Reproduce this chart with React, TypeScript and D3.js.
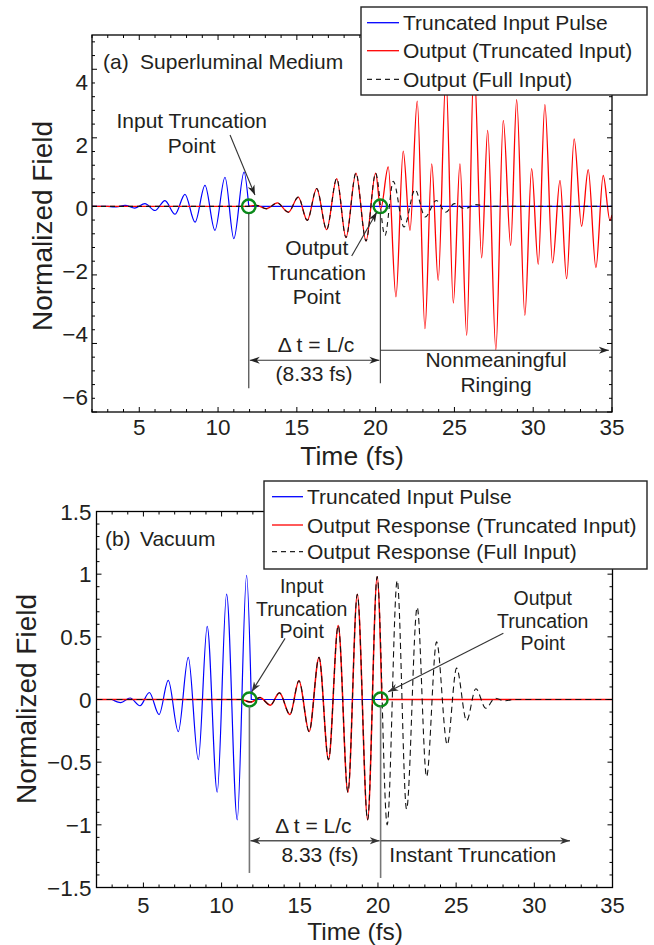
import React from "react";
import * as d3 from "d3";

// ---------------- data ----------------
const xTickValues = [5, 10, 15, 20, 25, 30, 35];
const yTickValuesA = [-6, -4, -2, 0, 2, 4];
const yTickValuesB = [-1.5, -1, -0.5, 0, 0.5, 1, 1.5];

// Panel (a): superluminal medium
const inputA_t = [3.0, 3.55, 4.1, 4.72, 5.36, 6.0, 6.63, 7.27, 7.9, 8.54, 9.17, 9.8, 10.44, 11.0, 11.65, 11.95];
const inputA_v = [0, -0.015, 0.03, -0.05, 0.08, -0.12, 0.17, -0.23, 0.35, -0.46, 0.61, -0.7, 0.85, -0.94, 1.0, 0];

const outTruncA_t = [11.95, 12.45, 13.08, 13.76, 14.46, 15.09, 15.66, 16.26, 16.89, 17.53, 18.12, 18.75, 19.39, 20.0, 20.32, 20.8, 21.29, 21.75, 22.18, 22.64, 23.13, 23.56, 23.97, 24.46, 24.93, 25.35, 25.78, 26.24, 26.73, 27.11, 27.63, 28.1, 28.57, 28.95, 29.47, 29.9, 30.32, 30.74, 31.23, 31.7, 32.12, 32.6, 33.07, 33.49, 33.98, 34.44, 34.87, 35];
const outTruncA_v = [0, 0.03, -0.07, 0.1, -0.17, 0.27, -0.41, 0.52, -0.68, 0.81, -0.91, 0.97, -1.01, 0.97, -0.08, 1.15, -2.64, 1.61, -0.7, 3.07, -3.57, 1.24, -2.16, 3.8, -2.82, 1.24, -3.76, 4.2, -1.5, 2.22, -4.18, 2.51, -1.14, 3.11, -3.18, 1.1, -1.69, 2.97, -1.65, 0.76, -2.11, 1.97, -0.58, 1.07, -1.79, 0.9, -0.41, -0.25];

const outFullA_t = [11.95, 12.45, 13.08, 13.76, 14.46, 15.09, 15.66, 16.26, 16.89, 17.53, 18.12, 18.75, 19.39, 20.0, 20.59, 21.12, 21.8, 22.5, 23.15, 23.85, 24.45, 25.0, 25.65, 26.3, 26.9];
const outFullA_v = [0, 0.03, -0.07, 0.1, -0.17, 0.27, -0.41, 0.52, -0.68, 0.81, -0.91, 0.97, -1.01, 0.97, -0.85, 0.73, -0.6, 0.49, -0.31, 0.17, -0.17, 0.08, -0.07, 0.05, 0];

// Panel (b): vacuum
const inputB_t = [3.0, 3.55, 4.15, 4.78, 5.38, 6.0, 6.59, 7.23, 7.87, 8.51, 9.08, 9.72, 10.32, 11.0, 11.6, 11.9];
const inputB_v = [0, -0.025, 0.012, -0.05, 0.056, -0.12, 0.152, -0.256, 0.336, -0.48, 0.584, -0.74, 0.84, -0.96, 0.99, 0];

const outTruncB_t = [11.3, 11.88, 12.45, 13.12, 13.7, 14.37, 14.95, 15.6, 16.23, 16.84, 17.46, 18.08, 18.68, 19.34, 19.95, 20.25];
const outTruncB_v = [0, -0.02, 0.015, -0.045, 0.053, -0.12, 0.15, -0.256, 0.336, -0.48, 0.59, -0.74, 0.84, -0.96, 0.98, 0];

const outFullB_t = [11.3, 11.88, 12.45, 13.12, 13.7, 14.37, 14.95, 15.6, 16.23, 16.84, 17.46, 18.08, 18.68, 19.34, 19.95, 20.59, 21.23, 21.83, 22.51, 23.11, 23.75, 24.43, 25.03, 25.67, 26.26, 26.9, 27.48, 28.1, 28.6];
const outFullB_v = [0, -0.02, 0.015, -0.045, 0.053, -0.12, 0.15, -0.256, 0.336, -0.48, 0.59, -0.74, 0.84, -0.96, 0.98, -1.0, 0.95, -0.875, 0.736, -0.616, 0.46, -0.36, 0.25, -0.17, 0.086, -0.07, 0.01, -0.01, 0];

const truncA = [11.95, 20.3];
const truncB = [11.78, 20.17];

const legendA = ["Truncated Input Pulse", "Output (Truncated Input)", "Output (Full Input)"];
const legendB = ["Truncated Input Pulse", "Output Response (Truncated Input)", "Output Response (Full Input)"];

// ---------------- helpers ----------------
const FONT = "'Liberation Sans', Arial, Helvetica, sans-serif";
const TXT = "#231f20";
const BLUE = "#0000ff";
const RED = "#ff0000";
const GREEN = "#0a8a1a";

function wavePath(ts: number[], vs: number[], x: any, y: any, lead?: number, tail?: number) {
  const pts: [number, number][] = ts.map((t, i) => [x(t), y(vs[i])]);
  let d = d3.line().curve(d3.curveMonotoneX)(pts) as string;
  if (lead !== undefined) d = `M${x(lead)},${y(0)}L` + d.slice(1);
  if (tail !== undefined) d = d + `L${x(tail)},${y(0)}`;
  return d;
}

function fmt(v: number) {
  const s = d3.format("")(v);
  return s.replace("-", "\u2212");
}

function Axes(props: {
  x: any; y: any; xMinor: number[]; yMinor: number[]; yTicks: number[];
  yLabelPos: (v: number) => number; xLabelY: number; yLabelX: number; xFont: number;
}) {
  const { x, y, xMinor, yMinor, yTicks, yLabelPos, xLabelY, yLabelX, xFont } = props;
  const [x0, x1] = x.range();
  const [y0, y1] = y.range(); // bottom, top
  const maj = 5, mn = 3;
  const els: any[] = [];
  xMinor.forEach((t, i) => {
    const L = xTickValues.includes(t) ? maj : mn;
    els.push(<line key={"xb" + i} x1={x(t)} x2={x(t)} y1={y0} y2={y0 - L} />);
    els.push(<line key={"xt" + i} x1={x(t)} x2={x(t)} y1={y1} y2={y1 + L} />);
  });
  yMinor.forEach((v, i) => {
    const L = yTicks.some((q) => Math.abs(q - v) < 1e-6) ? maj : mn;
    els.push(<line key={"yl" + i} x1={x0} x2={x0 + L} y1={y(v)} y2={y(v)} />);
    els.push(<line key={"yr" + i} x1={x1} x2={x1 - L} y1={y(v)} y2={y(v)} />);
  });
  return (
    <g>
      <g stroke="#000" strokeWidth={1}>{els}</g>
      <rect x={x0} y={y1} width={x1 - x0} height={y0 - y1} fill="none" stroke="#000" strokeWidth={1.3} />
      <g fontFamily={FONT} fill={TXT}>
        {xTickValues.map((t) => (
          <text key={"xl" + t} x={x(t)} y={xLabelY} fontSize={xFont} textAnchor="middle">{t}</text>
        ))}
        {yTicks.map((v) => (
          <text key={"ylb" + v} x={yLabelX} y={yLabelPos(v)} fontSize={22.5} dy="0.36em" textAnchor="end">{fmt(v)}</text>
        ))}
      </g>
    </g>
  );
}

function Legend(props: { x: number; y: number; w: number; h: number; labels: string[]; rowY: number[]; lineX: [number, number]; textX: number; dash: string }) {
  const { x, y, w, h, labels, rowY, lineX, textX, dash } = props;
  const colors = [BLUE, RED, "#222"];
  return (
    <g>
      <rect x={x} y={y} width={w} height={h} fill="#fff" stroke="#222" strokeWidth={1.4} />
      {labels.map((l, i) => (
        <g key={l}>
          <line x1={lineX[0]} x2={lineX[1]} y1={rowY[i]} y2={rowY[i]} stroke={colors[i]} strokeWidth={1.3}
            strokeDasharray={i === 2 ? dash : undefined} />
          <text x={textX} y={rowY[i] + 7.6} fontFamily={FONT} fontSize={21} fill={TXT}>{l}</text>
        </g>
      ))}
    </g>
  );
}

function Marker({ id, color }: { id: string; color: string }) {
  return (
    <marker id={id} viewBox="-10 -5 12 10" refX={0} refY={0} markerWidth={12} markerHeight={10}
      markerUnits="userSpaceOnUse" orient="auto-start-reverse">
      <path d="M0,0 L-10,-3.6 L-7,0 L-10,3.6 Z" fill={color} />
    </marker>
  );
}

export default function App() {
  // panel (a) scales
  const xA = d3.scaleLinear().domain([2, 35]).range([92, 612]);
  const yA = d3.scaleLinear().domain([-6, 5]).range([412, 35]);
  const yLabA = d3.scaleLinear().domain([-6, 4]).range([397, 82]);
  // panel (b) scales
  const xB = d3.scaleLinear().domain([2, 35]).range([96.5, 612.5]);
  const yB = d3.scaleLinear().domain([-1.5, 1.5]).range([887.5, 511.5]);

  const xMinor = d3.range(2, 35.001, 1);
  const yMinorA = d3.range(-6, 5.001, 0.4).map((v) => +v.toFixed(2));
  const yMinorB = d3.range(-1.5, 1.5001, 0.1).map((v) => +v.toFixed(2));

  const txt = { fontFamily: FONT, fill: TXT } as any;

  return (
    <svg width={654} height={945} style={{ position: "absolute", left: 0, top: 0, background: "#fff" }}>
      <defs>
        <clipPath id="clipA"><rect x={92} y={35} width={520} height={377} /></clipPath>
        <clipPath id="clipB"><rect x={96.5} y={511.5} width={516} height={376} /></clipPath>
        <Marker id="arrA" color="#222" />
        <Marker id="arrB" color="#333" />
      </defs>
      <rect x={0} y={0} width={654} height={945} fill="#fff" />

      {/* ================= Panel (a) ================= */}
      <g clipPath="url(#clipA)" fill="none">
        <path d={wavePath(inputA_t, inputA_v, xA, yA, 2, 35)} stroke={BLUE} strokeWidth={1.2} />
        <path d={wavePath(outTruncA_t, outTruncA_v, xA, yA, 2)} stroke={RED} strokeWidth={1.3} />
        <path d={wavePath(outFullA_t, outFullA_v, xA, yA, 2, 35)} stroke="#111" strokeWidth={1.1} strokeDasharray="5,4" />
      </g>
      {truncA.map((t) => (
        <circle key={"ca" + t} cx={xA(t)} cy={yA(0)} r={6.8} fill="none" stroke={GREEN} strokeWidth={2.4} />
      ))}
      <g stroke="#333" strokeWidth={1.1} fill="none">
        <line x1={xA(truncA[0])} x2={xA(truncA[0])} y1={yA(-0.2)} y2={yA(-5.31)} />
        <line x1={xA(truncA[1])} x2={xA(truncA[1])} y1={yA(-0.2)} y2={yA(-5.16)} />
        <line x1={xA(10.76)} y1={yA(2.08)} x2={xA(12.34)} y2={yA(0.33)} markerEnd="url(#arrA)" />
        <line x1={xA(18.48)} y1={yA(-1.45)} x2={xA(20.07)} y2={yA(-0.17)} markerEnd="url(#arrA)" />
        <line x1={xA(truncA[0]) + 1} y1={yA(-4.49)} x2={xA(truncA[1]) - 1} y2={yA(-4.49)} markerStart="url(#arrA)" markerEnd="url(#arrA)" />
        <line x1={xA(truncA[1])} y1={yA(-4.2)} x2={xA(34.8)} y2={yA(-4.2)} markerEnd="url(#arrA)" />
      </g>
      <g {...txt} fontSize={21} textAnchor="middle">
        <text x={xA(8.33)} y={yA(2.28)}>Input Truncation</text>
        <text x={xA(8.33)} y={yA(1.56)}>Point</text>
        <text x={xA(16.26)} y={yA(-1.41)}>Output</text>
        <text x={xA(16.26)} y={yA(-2.14)}>Truncation</text>
        <text x={xA(16.26)} y={yA(-2.84)}>Point</text>
        <text x={xA(16.22)} y={yA(-4.25)}>{"\u0394 t = L/c"}</text>
        <text x={xA(16.09)} y={yA(-5.11)}>(8.33 fs)</text>
        <text x={xA(27.64)} y={yA(-4.69)}>Nonmeaningful</text>
        <text x={xA(27.64)} y={yA(-5.42)}>Ringing</text>
      </g>
      <g {...txt} fontSize={21}>
        <text x={xA(2.7)} y={yA(4.02)}>(a)</text>
        <text x={xA(5.05)} y={yA(4.02)}>Superluminal Medium</text>
      </g>
      <Axes x={xA} y={yA} xMinor={xMinor} yMinor={yMinorA} yTicks={yTickValuesA}
        yLabelPos={(v) => yLabA(v)} xLabelY={435} yLabelX={88} xFont={22.5} />
      <text {...txt} fontSize={26.5} x={352} y={465} textAnchor="middle">Time (fs)</text>
      <text {...txt} fontSize={28} textAnchor="middle" transform={`translate(52,226) rotate(-90)`}>Normalized Field</text>
      <Legend x={361} y={7} w={286} h={88} labels={legendA} rowY={[22.7, 50.7, 79.3]} lineX={[367, 399]} textX={403} dash="5,4" />

      {/* ================= Panel (b) ================= */}
      <g clipPath="url(#clipB)" fill="none">
        <path d={wavePath(inputB_t, inputB_v, xB, yB, 2, 35)} stroke={BLUE} strokeWidth={1.2} />
        <path d={wavePath(outTruncB_t, outTruncB_v, xB, yB, 2, 35)} stroke={RED} strokeWidth={1.5} />
        <path d={wavePath(outFullB_t, outFullB_v, xB, yB, 2, 35)} stroke="#111" strokeWidth={1.1} strokeDasharray="6,4" />
      </g>
      {truncB.map((t) => (
        <circle key={"cb" + t} cx={xB(t)} cy={yB(0)} r={7} fill="none" stroke={GREEN} strokeWidth={2.4} />
      ))}
      <g stroke="#777" strokeWidth={1.6} fill="none">
        <line x1={xB(truncB[0])} x2={xB(truncB[0])} y1={yB(-0.055)} y2={yB(-1.384)} />
        <line x1={xB(truncB[1])} x2={xB(truncB[1])} y1={yB(-0.055)} y2={yB(-1.424)} />
      </g>
      <g stroke="#333" strokeWidth={1.1} fill="none">
        <line x1={xB(14.06)} y1={yB(0.488)} x2={xB(11.93)} y2={yB(0.062)} markerEnd="url(#arrB)" />
        <line x1={xB(28.02)} y1={yB(0.528)} x2={xB(20.66)} y2={yB(0.062)} markerEnd="url(#arrB)" />
      </g>
      <g stroke="#555" strokeWidth={1.3} fill="none">
        <line x1={xB(truncB[0]) + 1} y1={yB(-1.127)} x2={xB(truncB[1]) - 1} y2={yB(-1.127)} markerStart="url(#arrB)" markerEnd="url(#arrB)" />
        <line x1={xB(truncB[1])} y1={yB(-1.127)} x2={xB(32.28)} y2={yB(-1.127)} markerEnd="url(#arrB)" />
      </g>
      <g {...txt} fontSize={19.5} textAnchor="middle">
        <text x={xB(15.12)} y={yB(0.847)}>Input</text>
        <text x={xB(15.12)} y={yB(0.666)}>Truncation</text>
        <text x={xB(15.12)} y={yB(0.493)}>Point</text>
        <text x={xB(30.54)} y={yB(0.754)}>Output</text>
        <text x={xB(30.54)} y={yB(0.568)}>Truncation</text>
        <text x={xB(30.54)} y={yB(0.395)}>Point</text>
      </g>
      <g {...txt} fontSize={21}>
        <text x={xB(15.87)} y={yB(-1.068)} textAnchor="middle">{"\u0394 t = L/c"}</text>
        <text x={xB(16.29)} y={yB(-1.294)} textAnchor="middle">8.33 (fs)</text>
        <text x={xB(20.73)} y={yB(-1.294)}>Instant Truncation</text>
        <text x={xB(2.54)} y={yB(1.225)}>(b)</text>
        <text x={xB(4.78)} y={yB(1.225)}>Vacuum</text>
      </g>
      <Axes x={xB} y={yB} xMinor={xMinor} yMinor={yMinorB} yTicks={yTickValuesB}
        yLabelPos={(v) => yB(v)} xLabelY={912.5} yLabelX={91.5} xFont={22} />
      <text {...txt} fontSize={24.5} x={355} y={939.5} textAnchor="middle">Time (fs)</text>
      <text {...txt} fontSize={28} textAnchor="middle" transform={`translate(36,699) rotate(-90)`}>Normalized Field</text>
      <Legend x={264} y={481} w={383} h={88} labels={legendB} rowY={[496.7, 525, 551.7]} lineX={[272, 303]} textX={307} dash="5,4" />
    </svg>
  );
}
